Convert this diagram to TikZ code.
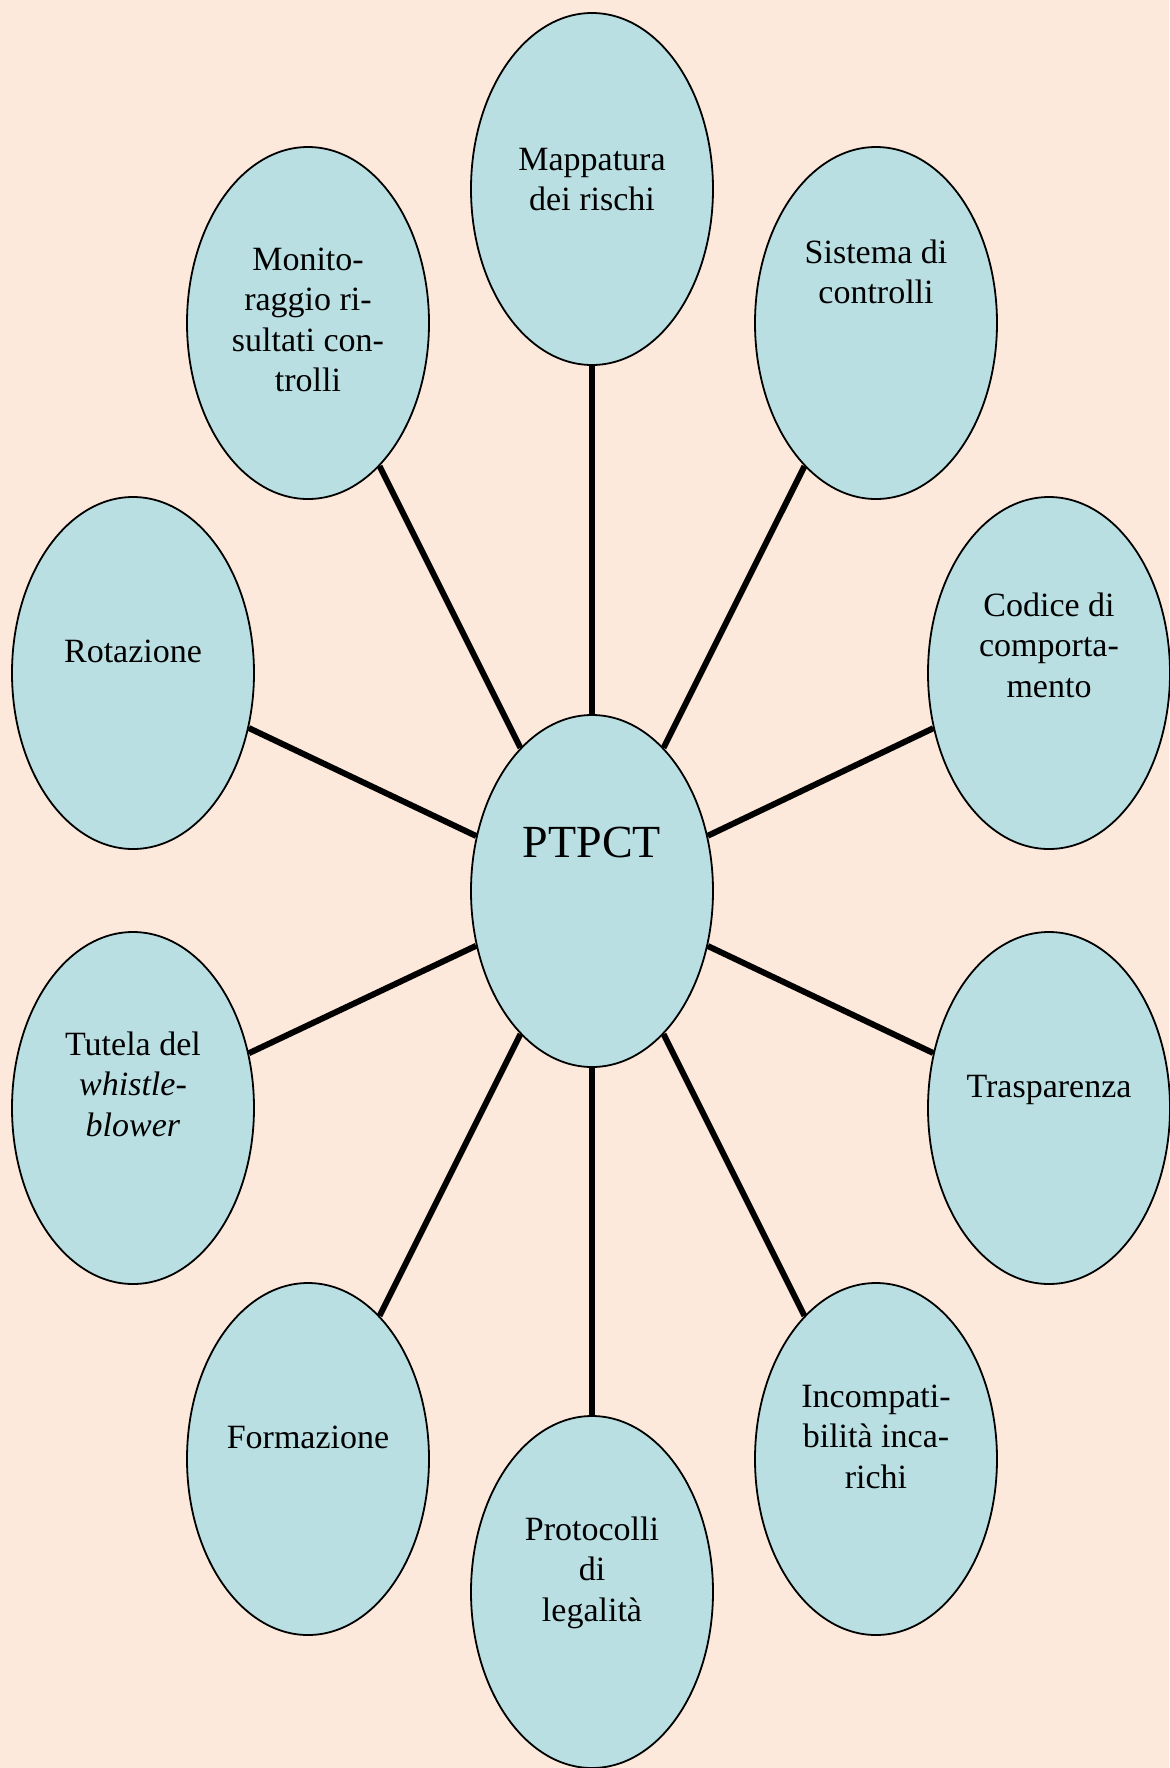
\documentclass[tikz,border=0pt]{standalone}
\usepackage{fontspec}
\setmainfont{Liberation Serif}
\usetikzlibrary{shapes.geometric}
\definecolor{peach}{HTML}{FDE9DB}
\definecolor{aqua}{HTML}{B9DFE3}
\newcommand{\bubtext}[1]{\begin{tabular}[t]{@{}c@{}}#1\end{tabular}}

\begin{document}
\begin{tikzpicture}[x=0.5pt, y=-0.5pt,
  bubble/.style={ellipse, draw, line width=0.9pt, fill=aqua,
                 minimum width=121pt, minimum height=176pt, inner sep=0pt},
  btext/.style={anchor=base, inner sep=0pt, font=\fontsize{17}{20.3}\selectfont},
  spoke/.style={line width=3pt}
]
\fill[peach] (0,0) rectangle (1169,1768);
\useasboundingbox (0,0) rectangle (1169,1768);

% ring of bubbles
\node[bubble] (ptpct) at (592,891) {};
\node[bubble] (map) at (592,189) {};
\node[bubble] (sis) at (876,323) {};
\node[bubble] (cod) at (1049,673) {};
\node[bubble] (tra) at (1049,1108) {};
\node[bubble] (inc) at (876,1459) {};
\node[bubble] (pro) at (592,1592) {};
\node[bubble] (for) at (308,1459) {};
\node[bubble] (tut) at (133,1108) {};
\node[bubble] (rot) at (133,673) {};
\node[bubble] (mon) at (308,323) {};

% spokes
\foreach \b in {map,sis,cod,tra,inc,pro,for,tut,rot,mon}
  \draw[spoke] (ptpct) -- (\b);

% texts
\node[btext, font=\fontsize{23}{28}\selectfont] (ptpct-t) at (592,857) {PTPCT};
\node[btext] (map-t) at (592,170) {\bubtext{Mappatura\\dei rischi}};
\node[btext] (sis-t) at (876,263) {\bubtext{Sistema di\\controlli}};
\node[btext] (cod-t) at (1049,616) {\bubtext{Codice di\\comporta-\\mento}};
\node[btext] (tra-t) at (1049,1097) {Trasparenza};
\node[btext] (inc-t) at (876,1407) {\bubtext{Incompati-\\bilità inca-\\richi}};
\node[btext] (pro-t) at (592,1540) {\bubtext{Protocolli\\di\\legalità}};
\node[btext] (for-t) at (308,1448) {Formazione};
\node[btext] (tut-t) at (133,1055) {\bubtext{Tutela del\\\textit{whistle-}\\\textit{blower}}};
\node[btext] (rot-t) at (133,662) {Rotazione};
\node[btext] (mon-t) at (308,270) {\bubtext{Monito-\\raggio ri-\\sultati con-\\trolli}};
\end{tikzpicture}
\end{document}
